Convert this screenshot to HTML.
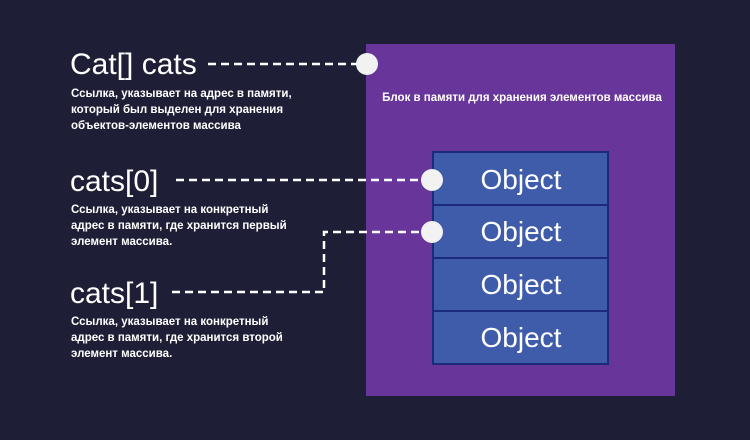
<!DOCTYPE html>
<html><head><meta charset="utf-8"><style>
html,body{margin:0;padding:0;background:#1e1f36;}
svg{display:block}
text{font-family:"Liberation Sans",sans-serif;fill:#fff}
</style></head><body>
<svg width="750" height="440" viewBox="0 0 750 440">
<rect width="750" height="440" fill="#1e1f36"/>
<rect x="366" y="44" width="309" height="352" fill="#68359a"/>
<text x="522" y="101" font-size="11.5" font-weight="bold" text-anchor="middle" fill="#f0e8f8">Блок в памяти для хранения элементов массива</text>
<g stroke="#1b2a7a" stroke-width="2" fill="#3f5cab">
<rect x="433" y="152" width="175" height="53"/>
<rect x="433" y="205" width="175" height="53"/>
<rect x="433" y="258" width="175" height="53"/>
<rect x="433" y="311" width="175" height="53"/>
</g>
<g font-size="28" text-anchor="middle">
<text x="521" y="189">Object</text>
<text x="521" y="241">Object</text>
<text x="521" y="294">Object</text>
<text x="521" y="347">Object</text>
</g>
<g stroke="#fff" stroke-width="2.5" stroke-dasharray="8,5" fill="none">
<line x1="208" y1="64" x2="358" y2="64"/>
<line x1="176" y1="180" x2="422" y2="180"/>
<polyline points="172,292 324,292 324,232 422,232"/>
</g>
<g fill="#f2f2f2">
<circle cx="367" cy="64" r="11"/>
<circle cx="432" cy="180" r="11"/>
<circle cx="432" cy="232" r="11"/>
</g>
<text x="70" y="74" font-size="30">Cat[] cats</text>
<g font-size="11.5" font-weight="bold" fill="#e8e8f0">
<text x="71" y="97">Ссылка, указывает на адрес в памяти,</text>
<text x="71" y="113">который был выделен для хранения</text>
<text x="71" y="129">объектов-элементов массива</text>
</g>
<text x="70" y="191" font-size="30">cats[0]</text>
<g font-size="11.5" font-weight="bold" fill="#e8e8f0">
<text x="71" y="213">Ссылка, указывает на конкретный</text>
<text x="71" y="229">адрес в памяти, где хранится первый</text>
<text x="71" y="245">элемент массива.</text>
</g>
<text x="70" y="303" font-size="30">cats[1]</text>
<g font-size="11.5" font-weight="bold" fill="#e8e8f0">
<text x="71" y="325">Ссылка, указывает на конкретный</text>
<text x="71" y="341">адрес в памяти, где хранится второй</text>
<text x="71" y="357">элемент массива.</text>
</g>
</svg>
</body></html>
